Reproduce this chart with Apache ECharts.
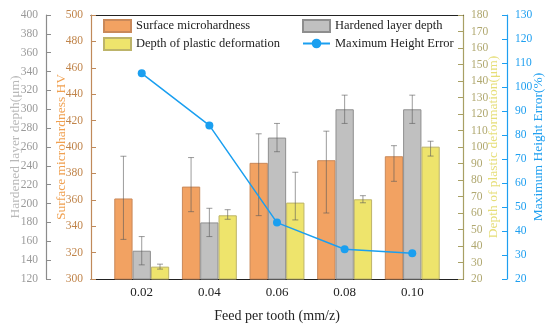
<!DOCTYPE html>
<html>
<head>
<meta charset="utf-8">
<script src="https://cdn.jsdelivr.net/npm/echarts@6/dist/echarts.min.js"></script>
<style>html,body{margin:0;padding:0;background:#fff;}#c{width:550px;height:327px;}</style>
</head>
<body>
<div id="c"></div>
<script>
// ---- data ----
const feeds = [0.02, 0.04, 0.06, 0.08, 0.10];
const xTickLabels = ['0.02', '0.04', '0.06', '0.08', '0.10'];
const hardness = [361, 370, 388, 390, 393];
const hardnessLow = [330, 351, 348, 350, 374];
const hardnessHigh = [393, 392, 410, 412, 401];
const layerDepth = [150, 180, 270, 300, 300];
const layerDepthLow = [135, 165, 255, 285, 285];
const layerDepthHigh = [165, 195, 285, 315, 315];
const plasticDepth = [27.5, 58.6, 66.3, 68.3, 100.2];
const plasticDepthLow = [26, 56.2, 55.8, 66.2, 94.5];
const plasticDepthHigh = [29, 62, 84.7, 70.5, 103.5];
const heightError = [105.7, 84, 43.5, 32.4, 30.7];

const FONT = 'Liberation Serif';
const BW = 18.3;

function pairs(vals) { return feeds.map((f, i) => [f, vals[i]]); }
function triples(lo, hi) { return feeds.map((f, i) => [f, lo[i], hi[i]]); }

function errRender(offsetPx) {
  return function (params, api) {
    const x = api.value(0);
    const lo = api.coord([x, api.value(1)]);
    const hi = api.coord([x, api.value(2)]);
    const cx = lo[0] + offsetPx;
    const cap = 3;
    const st = { stroke: 'rgba(90,90,90,0.6)', lineWidth: 1 };
    return {
      type: 'group',
      children: [
        { type: 'line', shape: { x1: cx, y1: hi[1], x2: cx, y2: lo[1] }, style: st },
        { type: 'line', shape: { x1: cx - cap, y1: hi[1], x2: cx + cap, y2: hi[1] }, style: st },
        { type: 'line', shape: { x1: cx - cap, y1: lo[1], x2: cx + cap, y2: lo[1] }, style: st }
      ]
    };
  };
}

function yAxis(opts) {
  return Object.assign({
    type: 'value',
    nameLocation: 'middle',
    nameRotate: 90,
    nameMoveOverlap: false,
    splitLine: { show: false },
    axisTick: { show: true, inside: true, length: 5, lineStyle: { color: opts.lineColor } },
    axisLine: { show: true, lineStyle: { color: opts.lineColor, width: 1.2 } },
    axisLabel: { color: opts.labelColor, fontFamily: FONT, fontSize: 11.5, margin: 8 },
    nameTextStyle: { color: opts.nameColor, fontFamily: FONT, fontSize: 13.5 }
  }, opts.extra);
}

const legendText = { fontFamily: FONT, fontSize: 12.5, color: '#222', lineHeight: 12 };

const chart = echarts.init(document.getElementById('c'));
chart.setOption({
  animation: false,
  backgroundColor: '#fff',
  grid: { left: 91, right: 87, top: 15, bottom: 48, containLabel: false, outerBoundsMode: 'none' },
  legend: [
    {
      left: 98, top: 14, orient: 'vertical', itemWidth: 27, itemHeight: 12, itemGap: 4,
      textStyle: legendText,
      data: [{ name: 'Surface microhardness', icon: 'rect' }, { name: 'Depth of plastic deformation', icon: 'rect' }]
    },
    {
      left: 297, top: 14, orient: 'vertical', itemWidth: 27, itemHeight: 12, itemGap: 4,
      textStyle: legendText,
      data: [{ name: 'Hardened layer depth', icon: 'rect' }, { name: 'Maximum Height Error' }]
    }
  ],
  xAxis: [
    {
      type: 'value', min: 0.005, max: 0.115, position: 'bottom',
      name: 'Feed per tooth (mm/z)', nameLocation: 'middle', nameGap: 30, nameMoveOverlap: false,
      nameTextStyle: { fontFamily: FONT, fontSize: 14, color: '#222' },
      splitLine: { show: false },
      axisLine: { show: true, onZero: false, lineStyle: { color: '#222', width: 1.2 } },
      axisTick: { show: true, inside: true, length: 5, lineStyle: { color: '#222' }, customValues: feeds },
      axisLabel: {
        fontFamily: FONT, fontSize: 13, color: '#222', margin: 7, customValues: feeds,
        formatter: function (v) { const i = feeds.findIndex(f => Math.abs(f - v) < 1e-9); return i >= 0 ? xTickLabels[i] : ''; }
      }
    },
    {
      type: 'value', min: 0.005, max: 0.115, position: 'top',
      splitLine: { show: false }, axisTick: { show: false }, axisLabel: { show: false },
      axisLine: { show: true, onZero: false, lineStyle: { color: '#222', width: 1.2 } }
    }
  ],
  yAxis: [
    yAxis({ lineColor: '#8c8c8c', labelColor: '#9a9a9a', nameColor: '#b8b8b8',
      extra: { position: 'left', offset: 45, min: 120, max: 400, interval: 20, name: 'Hardened layer depth(μm)', nameGap: 24 } }),
    yAxis({ lineColor: '#c08a5a', labelColor: '#c0844a', nameColor: '#f0a050',
      extra: { position: 'left', offset: 0, min: 300, max: 500, interval: 20, name: 'Surface microhardness HV', nameGap: 22.5 } }),
    yAxis({ lineColor: '#a8a064', labelColor: '#b0a870', nameColor: '#e6de78',
      extra: { position: 'right', offset: 0, min: 20, max: 180, interval: 10, name: 'Depth of plastic deformation(μm)', nameGap: 23.5 } }),
    yAxis({ lineColor: '#1e9ff0', labelColor: '#1e9ff0', nameColor: '#1e9ff0',
      extra: { position: 'right', offset: 44, min: 20, max: 130, interval: 10, name: 'Maximum Height Error(%)', nameGap: 24 } })
  ],
  series: [
    {
      name: 'Surface microhardness', type: 'bar', xAxisIndex: 0, yAxisIndex: 1,
      barWidth: BW, barGap: '0%', data: pairs(hardness),
      itemStyle: { color: '#f2a262', borderColor: '#c9895a', borderWidth: 1 }
    },
    {
      name: 'Hardened layer depth', type: 'bar', xAxisIndex: 0, yAxisIndex: 0,
      barWidth: BW, barGap: '0%', data: pairs(layerDepth),
      itemStyle: { color: '#c0c0c0', borderColor: '#8e8e8e', borderWidth: 1 }
    },
    {
      name: 'Depth of plastic deformation', type: 'bar', xAxisIndex: 0, yAxisIndex: 2,
      barWidth: BW, barGap: '0%', data: pairs(plasticDepth),
      itemStyle: { color: '#eee46c', borderColor: '#bdb46a', borderWidth: 1 }
    },
    { type: 'custom', xAxisIndex: 0, yAxisIndex: 1, z: 5, renderItem: errRender(-BW), data: triples(hardnessLow, hardnessHigh) },
    { type: 'custom', xAxisIndex: 0, yAxisIndex: 0, z: 5, renderItem: errRender(0), data: triples(layerDepthLow, layerDepthHigh) },
    { type: 'custom', xAxisIndex: 0, yAxisIndex: 2, z: 5, renderItem: errRender(BW), data: triples(plasticDepthLow, plasticDepthHigh) },
    {
      name: 'Maximum Height Error', type: 'line', xAxisIndex: 0, yAxisIndex: 3, z: 10,
      data: pairs(heightError), symbol: 'circle', symbolSize: 8,
      lineStyle: { color: '#1a9ff0', width: 1.5 }, itemStyle: { color: '#1a9ff0' }
    }
  ]
});
</script>
</body>
</html>
